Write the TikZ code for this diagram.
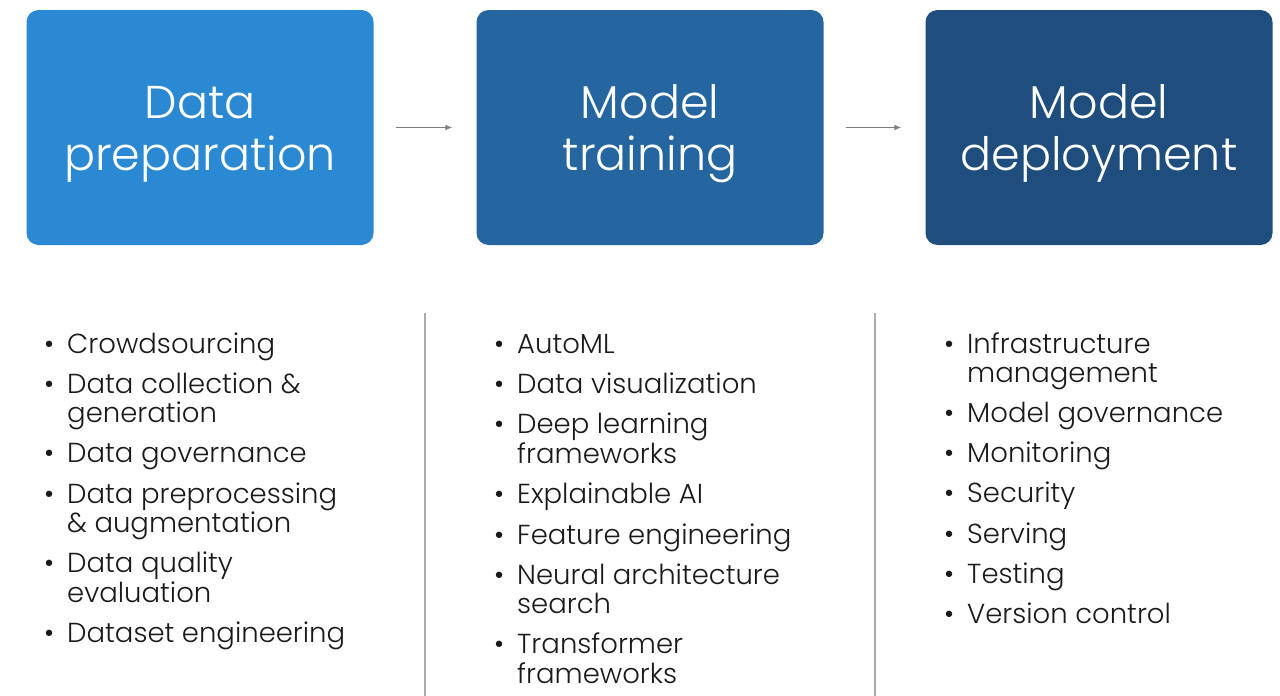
\documentclass[tikz,border=0pt]{standalone}
\usepackage{fontspec}
\setmainfont{Poppins}[UprightFont=* Light]
\usetikzlibrary{arrows.meta,positioning}

\definecolor{stageA}{HTML}{2B89D3}
\definecolor{stageB}{HTML}{2566A0}
\definecolor{stageC}{HTML}{1F4E7E}
\definecolor{flowgray}{HTML}{7F7F7F}
\definecolor{rulegray}{HTML}{ABABAB}
\definecolor{listtext}{HTML}{1A1A1A}

% bullet that hangs in front of each entry
\newcommand\bul{\makebox[23pt][l]{•}}
% two-line stage title, set a little below the box centre
\newcommand\stagetitle[2]{\raisebox{-7pt}[\height][\depth]{%
  \begin{tabular}{@{}c@{}}#1\\#2\end{tabular}}}

\begin{document}
\begin{tikzpicture}[x=1pt, y=-1pt,
    stage/.style={rectangle, rounded corners=12pt, minimum width=347pt,
      minimum height=235pt, inner sep=0pt, text=white,
      font=\fontsize{46}{52}\selectfont},
    flow/.style={-{Latex[length=7pt,width=6pt]}, flowgray, line width=1.3pt,
      shorten <=22pt, shorten >=24pt},
    divider/.style={rulegray, line width=1.5pt},
    tasks/.style={anchor=base west, inner sep=0pt, text=listtext,
      font=\fontsize{27.5}{29}\selectfont}
  ]
  \useasboundingbox (0,0) rectangle (1280,696);

  % Stage boxes
  \node[stage, fill=stageA] (prep)   at (200,127.5)  {\stagetitle{Data}{preparation}};
  \node[stage, fill=stageB] (train)  at (650,127.5)  {\stagetitle{Model}{training}};
  \node[stage, fill=stageC] (deploy) at (1099,127.5) {\stagetitle{Model}{deployment}};

  % Flow between stages
  \draw[flow] (prep) -- (train);
  \draw[flow] (train) -- (deploy);

  % Column separators
  \draw[divider] (425,313) -- (425,696);
  \draw[divider] (875,313) -- (875,696);

  % Task lists
  \node[tasks] (prepList) at (44,353) {\begin{tabular}[t]{@{}l@{}l@{}}
    \bul & Crowdsourcing\\[11pt]
    \bul & Data collection \&\\
         & generation\\[11pt]
    \bul & Data governance\\[11pt]
    \bul & Data preprocessing\\
         & \& augmentation\\[11pt]
    \bul & Data quality\\
         & evaluation\\[11pt]
    \bul & Dataset engineering
  \end{tabular}};

  \node[tasks] (trainList) at (494,353) {\begin{tabular}[t]{@{}l@{}l@{}}
    \bul & AutoML\\[11pt]
    \bul & Data visualization\\[11pt]
    \bul & Deep learning\\
         & frameworks\\[11pt]
    \bul & Explainable AI\\[11pt]
    \bul & Feature engineering\\[11pt]
    \bul & Neural architecture\\
         & search\\[11pt]
    \bul & Transformer\\
         & frameworks
  \end{tabular}};

  \node[tasks] (deployList) at (944,353) {\begin{tabular}[t]{@{}l@{}l@{}}
    \bul & Infrastructure\\
         & management\\[11pt]
    \bul & Model governance\\[11pt]
    \bul & Monitoring\\[11pt]
    \bul & Security\\[11pt]
    \bul & Serving\\[11pt]
    \bul & Testing\\[11pt]
    \bul & Version control
  \end{tabular}};
\end{tikzpicture}
\end{document}
